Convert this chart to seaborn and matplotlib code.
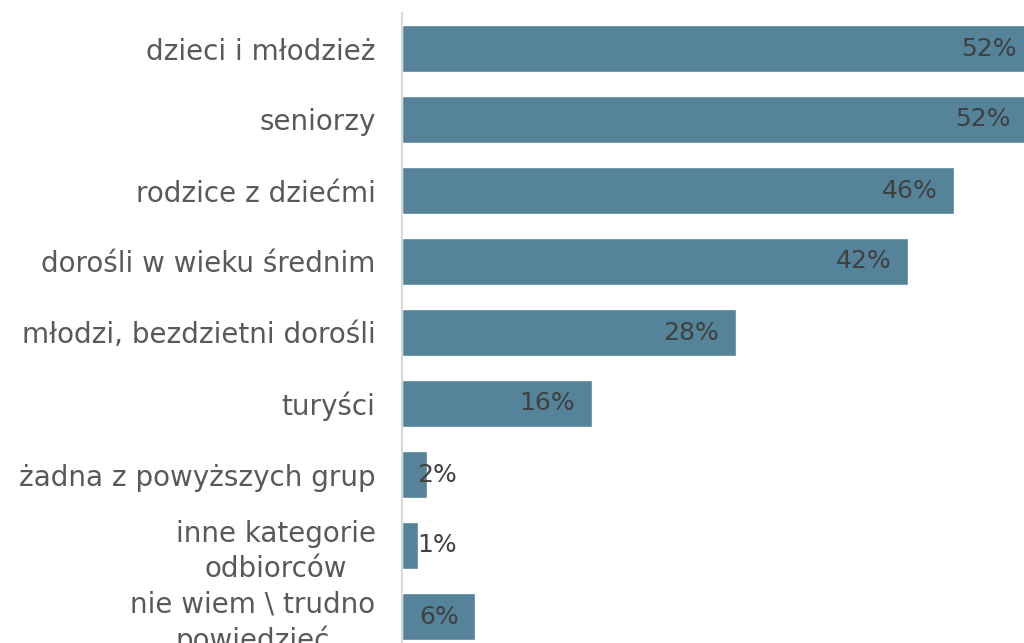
import matplotlib
matplotlib.use("Agg")
import matplotlib.pyplot as plt
import seaborn as sns
import pandas as pd

# dane (%)
kategorie = ["dzieci i młodzież", "seniorzy", "rodzice z dziećmi",
             "dorośli w wieku średnim", "młodzi, bezdzietni dorośli", "turyści",
             "żadna z powyższych grup", "inne kategorie\nodbiorców",
             "nie wiem \\ trudno\npowiedzieć"]
wartosci = [52.6, 52.1, 46.0, 42.2, 27.8, 15.8, 2.1, 1.3, 6.1]
etykiety = ["52%", "52%", "46%", "42%", "28%", "16%", "2%", "1%", "6%"]

df = pd.DataFrame({"kategoria": kategorie, "wartosc": wartosci})

sns.set_style("white")
plt.rcParams['font.family'] = ['DejaVu Sans']

fig = plt.figure(figsize=(10.24, 6.43), dpi=100)
ax = fig.add_axes([402 / 1024, -9 / 643, 622 / 1024, 639 / 643])

sns.barplot(data=df, x="wartosc", y="kategoria", orient="h", color="#54839A",
            saturation=1, width=0.65, ax=ax)

ax.set_xlim(0, 51.83)
ax.set_ylim(8.5, -0.5)
ax.set_xlabel("")
ax.set_ylabel("")
ax.set_xticks([])

for s in ["top", "right", "bottom"]:
    ax.spines[s].set_visible(False)
ax.spines["left"].set_color("#D9D9D9")
ax.spines["left"].set_linewidth(1.5)

ax.tick_params(axis="y", length=0, pad=19, labelsize=20, labelcolor="#595959")
for lbl in ax.get_yticklabels():
    lbl.set_multialignment("center")
    lbl.set_linespacing(1.3)

# etykiety wartości - wewnątrz końca słupka
for i, (v, t) in enumerate(zip(wartosci, etykiety)):
    if v < 5:
        ax.annotate(t, xy=(0, i), xytext=(11, 0), textcoords="offset points",
                    ha="left", va="center", fontsize=18, color="#404040")
    else:
        ax.annotate(t, xy=(v, i), xytext=(-12, 0), textcoords="offset points",
                    ha="right", va="center", fontsize=18, color="#404040",
                    annotation_clip=False)

fig.savefig("out.png", dpi=100)
